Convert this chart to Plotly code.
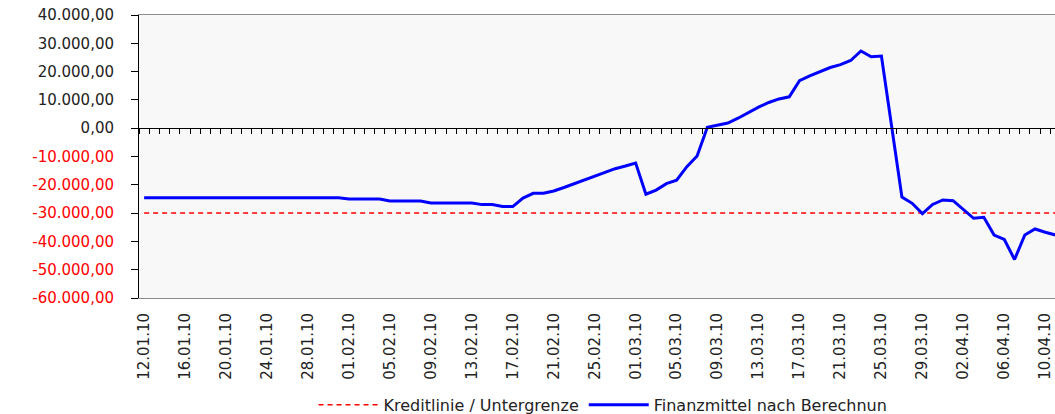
import plotly.graph_objects as go
from datetime import date, timedelta

# ---- data ----
start = date(2010, 1, 12)
n_days = 90
dates = [(start + timedelta(days=i)).strftime("%d.%m.%y") for i in range(n_days)]

finanzmittel = (
    [-24600] * 20
    + [-25000] * 4
    + [-25700] * 4
    + [-26400] * 5
    + [-27000] * 2
    + [-27700] * 2
    + [-24700, -23000, -23000, -22190, -20960, -19580, -18270, -16960,
       -15480, -14310, -13360, -12300, -23300, -21850, -19600, -18400,
       -13600, -9820, 300, 1130, 1840, 3530, 5510, 7420, 9080, 10350,
       11100, 16820, 18520, 19970, 21450, 22480, 23930, 27280, 25270,
       25520, 420, -24310, -26540, -30180, -26960, -25370, -25620,
       -28900, -31840, -31490, -37740, -39330, -46400, -37740, -35620,
       -36750, -37740]
)
kreditlinie = [-30000] * n_days

y_ticks = [40000, 30000, 20000, 10000, 0, -10000, -20000, -30000, -40000, -50000, -60000]
x_tick_labels = dates[::4]

name_kredit = "Kreditlinie / Untergrenze"
name_finanz = "Finanzmittel nach Berechnun"


def de_fmt(v):
    s = f"{v:,.2f}"
    return s.replace(",", "X").replace(".", ",").replace("X", ".")


y_text = [
    (f"<span style='color:#FF0000'>{de_fmt(v)}</span>" if v < 0 else de_fmt(v))
    for v in y_ticks
]

FONT = "DejaVu Sans"
x_range = [-0.5, 88.95]

fig = go.Figure()
fig.add_trace(go.Scatter(
    x=dates, y=kreditlinie, name=name_kredit, mode="lines",
    line=dict(color="#FF0000", width=1.5, dash="5px,4px"),
))
fig.add_trace(go.Scatter(
    x=dates, y=finanzmittel, name=name_finanz, mode="lines",
    line=dict(color="#0000FF", width=3),
))
# helper trace so the zero-line axis (with daily tick marks) is drawn
fig.add_trace(go.Scatter(
    x=list(range(n_days)), y=kreditlinie, xaxis="x2", mode="lines",
    line=dict(width=0), opacity=0, showlegend=False, hoverinfo="skip",
))

fig.update_layout(
    width=1055, height=414, autosize=False,
    margin=dict(l=139, r=0, t=15, b=116, autoexpand=False),
    paper_bgcolor="white",
    plot_bgcolor="#F8F8F8",
    font=dict(family=FONT, size=15, color="#222222"),
    showlegend=True,
    legend=dict(
        orientation="h", x=0.5066, xanchor="center", y=-0.378, yanchor="middle",
        font=dict(family=FONT, size=16, color="#222222"),
        itemwidth=60, tracegroupgap=0, bgcolor="rgba(0,0,0,0)",
    ),
    xaxis=dict(
        type="category", range=x_range, tickmode="array",
        tickvals=x_tick_labels, ticktext=x_tick_labels,
        tickangle=-90, ticks="", showgrid=False, zeroline=False,
        showline=True, linecolor="#8C8C8C", linewidth=1, mirror=True,
        tickfont=dict(family=FONT, size=15, color="#222222"),
        ticklabelstandoff=8, automargin=False, ticklabeloverflow="allow",
    ),
    xaxis2=dict(
        overlaying="x", anchor="free", position=0.6, type="linear",
        range=x_range, tickmode="linear", tick0=0.5, dtick=1,
        ticks="outside", ticklen=5, tickwidth=1, tickcolor="#000000",
        showticklabels=False, showgrid=False, zeroline=False,
        showline=True, linecolor="#000000", linewidth=1, automargin=False,
    ),
    yaxis=dict(
        range=[-60000, 40000], tickmode="array", tickvals=y_ticks, ticktext=y_text,
        ticks="outside", ticklen=7, tickwidth=1, tickcolor="#000000",
        showline=True, linecolor="#000000", linewidth=1,
        showgrid=False, zeroline=False,
        tickfont=dict(family=FONT, size=15, color="#222222"),
        ticklabelstandoff=14, automargin=False, ticklabeloverflow="allow",
    ),
)

# remove the default 8px page margin so the figure fills the window exactly
fig.write_html(
    "out.html",
    config={"displayModeBar": False},
    post_script="document.body.style.margin='0';",
)
